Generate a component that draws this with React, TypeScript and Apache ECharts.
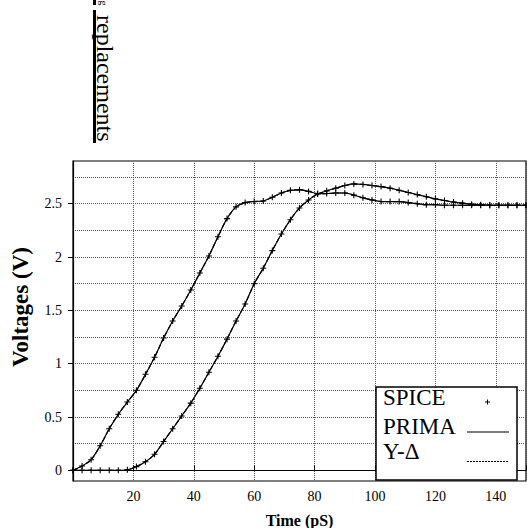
import React, { useEffect, useRef } from "react";
import * as echarts from "echarts";

// Time axis (pS)
const times = [
  0, 3, 6, 9, 12, 15, 18, 21, 24, 27,
  30, 33, 36, 39, 42, 45, 48, 51, 54, 57,
  60, 63, 66, 69, 72, 75, 78, 81, 84, 87,
  90, 93, 96, 99, 102, 105, 108, 111, 114, 117,
  120, 123, 126, 129, 132, 135, 138, 141, 144, 147,
  150,
];

// Near-end node voltage (V)
const nearVolts = [
  0, 0.04, 0.1, 0.23, 0.39, 0.525, 0.64, 0.75, 0.9, 1.06,
  1.24, 1.4, 1.54, 1.69, 1.85, 2.01, 2.19, 2.36, 2.47, 2.51,
  2.52, 2.525, 2.56, 2.6, 2.625, 2.63, 2.615, 2.595, 2.595, 2.6,
  2.6, 2.58, 2.555, 2.535, 2.52, 2.52, 2.52, 2.51, 2.5, 2.49,
  2.49, 2.485, 2.485, 2.485, 2.485, 2.485, 2.485, 2.485, 2.485, 2.485,
  2.485,
];

// Far-end node voltage (V)
const farVolts = [
  0, 0, 0, 0, 0, 0, 0.005, 0.035, 0.08, 0.15,
  0.27, 0.39, 0.51, 0.63, 0.77, 0.92, 1.07, 1.23, 1.4, 1.56,
  1.75, 1.895, 2.06, 2.215, 2.35, 2.46, 2.535, 2.59, 2.62, 2.645,
  2.67, 2.685, 2.68, 2.67, 2.66, 2.645, 2.625, 2.605, 2.585, 2.565,
  2.545, 2.53, 2.515, 2.505, 2.495, 2.49, 2.485, 2.485, 2.485, 2.485,
  2.485,
];

const xTickLabels = ["20", "40", "60", "80", "100", "120", "140"];
const yLabelValues = [0, 0.5, 1, 1.5, 2, 2.5];
const yGridValues = [0, 0.25, 0.5, 0.75, 1, 1.25, 1.5, 1.75, 2, 2.25, 2.5, 2.75];
const legendNames = ["SPICE", "PRIMA", "Y-\u0394"];

const SERIF = "'Liberation Serif', 'DejaVu Serif', 'Times New Roman', serif";
const PLUS =
  "path://M-0.18,-1 L0.18,-1 L0.18,-0.18 L1,-0.18 L1,0.18 L0.18,0.18 L0.18,1 L-0.18,1 L-0.18,0.18 L-1,0.18 L-1,-0.18 L-0.18,-0.18 Z";

function pairs(vals: number[]) {
  return times.map((t, i) => [t, vals[i]]);
}

export default function App() {
  const ref = useRef<HTMLDivElement>(null);

  useEffect(() => {
    if (!ref.current) return;
    const chart = echarts.init(ref.current, undefined, { renderer: "svg" });
    const gridStyle = { color: "#555", type: "dotted" as const, width: 1 };

    const lineSeries = (name: string, vals: number[], type: "solid" | "dashed") => ({
      name,
      type: "line",
      data: pairs(vals),
      showSymbol: false,
      smooth: 0.3,
      lineStyle: { color: "#000", width: 1.2, type },
      itemStyle: { color: "#000" },
      z: type === "solid" ? 3 : 2,
    });
    const spiceSeries = (vals: number[]) => ({
      name: legendNames[0],
      type: "scatter",
      data: pairs(vals),
      symbol: PLUS,
      symbolSize: 6,
      itemStyle: { color: "#000", opacity: 1 },
      z: 4,
    });

    chart.setOption({
      animation: false,
      backgroundColor: "#fff",
      textStyle: { fontFamily: SERIF },
      grid: {
        left: 73,
        top: 161,
        right: 1,
        bottom: 47,
        outerBoundsMode: "none",
        containLabel: false,
        show: true,
        borderColor: "#000",
        borderWidth: 1.2,
        backgroundColor: "transparent",
      },
      xAxis: {
        type: "value",
        min: 0,
        max: 150,
        interval: 20,
        name: "Time (pS)",
        nameLocation: "middle",
        nameGap: 31,
        nameTextStyle: { fontFamily: SERIF, fontWeight: "bold", fontSize: 16, color: "#000" },
        axisLine: { show: true, lineStyle: { color: "#000", width: 1.2 } },
        axisTick: { show: true, inside: true, length: 5, lineStyle: { color: "#000" } },
        axisLabel: {
          fontFamily: SERIF,
          fontSize: 14,
          color: "#000",
          margin: 8,
          formatter: (v: number) => {
            const s = String(v);
            return xTickLabels.includes(s) ? s : "";
          },
        },
        splitLine: { show: true, lineStyle: gridStyle },
      },
      yAxis: [
        {
          type: "value",
          min: -0.1,
          max: 2.9,
          name: "Voltages (V)",
          nameLocation: "middle",
          nameGap: 41,
          nameTextStyle: {
            fontFamily: SERIF,
            fontWeight: "bold",
            fontSize: 23,
            color: "#000",
            padding: [0, 0, 0, 28],
          },
          axisLine: { show: true, lineStyle: { color: "#000", width: 1.2 } },
          axisTick: {
            show: true,
            length: 0,
            customValues: yGridValues,
            lineStyle: { color: "transparent" },
          },
          axisLabel: {
            fontFamily: SERIF,
            fontSize: 14,
            color: "#000",
            margin: 11,
            customValues: yLabelValues,
          },
          splitLine: { show: true, lineStyle: gridStyle },
        },
        {
          type: "value",
          min: -0.1,
          max: 2.9,
          position: "left",
          axisLine: { show: false },
          axisTick: {
            show: true,
            inside: false,
            length: 5,
            customValues: yLabelValues,
            lineStyle: { color: "#000" },
          },
          axisLabel: { show: false },
          splitLine: { show: false },
        },
      ],
      series: [
        lineSeries(legendNames[2], nearVolts, "dashed"),
        lineSeries(legendNames[2], farVolts, "dashed"),
        lineSeries(legendNames[1], nearVolts, "solid"),
        lineSeries(legendNames[1], farVolts, "solid"),
        spiceSeries(nearVolts),
        spiceSeries(farVolts),
      ],
      graphic: [
        // PSfrag artifact at top-left
        {
          type: "rect",
          shape: { x: 93, y: 10, width: 3, height: 133 },
          style: { fill: "#000" },
        },
        {
          type: "rect",
          shape: { x: 93, y: 0, width: 3, height: 5 },
          style: { fill: "#000" },
        },
        {
          type: "text",
          x: 103,
          y: 0.5,
          rotation: -Math.PI / 2,
          style: {
            text: "g",
            fontFamily: SERIF,
            fontSize: 10,
            fill: "#000",
            textAlign: "left",
            textVerticalAlign: "middle",
          },
        },
        {
          type: "text",
          x: 104.5,
          y: 15,
          rotation: -Math.PI / 2,
          style: {
            text: "replacements",
            fontFamily: SERIF,
            fontSize: 24,
            fill: "#000",
            textAlign: "left",
            textVerticalAlign: "middle",
          },
        },
        // Legend box
        {
          type: "rect",
          shape: { x: 376, y: 387, width: 141, height: 93 },
          style: { fill: "#fff", stroke: "#000", lineWidth: 1.5 },
          z: 100,
        },
        {
          type: "text",
          x: 383,
          y: 409,
          style: { text: legendNames[0], fontFamily: SERIF, fontSize: 23, fill: "#000", textVerticalAlign: "bottom" },
          z: 101,
        },
        {
          type: "text",
          x: 383,
          y: 438,
          style: { text: legendNames[1], fontFamily: SERIF, fontSize: 23, fill: "#000", textVerticalAlign: "bottom" },
          z: 101,
        },
        {
          type: "text",
          x: 383,
          y: 463,
          style: { text: legendNames[2], fontFamily: SERIF, fontSize: 23, fill: "#000", textVerticalAlign: "bottom" },
          z: 101,
        },
        {
          type: "line",
          shape: { x1: 485, y1: 402, x2: 490, y2: 402 },
          style: { stroke: "#000", lineWidth: 1 },
          z: 101,
        },
        {
          type: "line",
          shape: { x1: 487.5, y1: 399.5, x2: 487.5, y2: 404.5 },
          style: { stroke: "#000", lineWidth: 1 },
          z: 101,
        },
        {
          type: "line",
          shape: { x1: 467, y1: 432, x2: 509, y2: 432 },
          style: { stroke: "#000", lineWidth: 1.2 },
          z: 101,
        },
        {
          type: "line",
          shape: { x1: 467, y1: 461.5, x2: 509, y2: 461.5 },
          style: { stroke: "#000", lineWidth: 1, lineDash: [2, 1] },
          z: 101,
        },
      ],
    });

    return () => chart.dispose();
  }, []);

  return (
    <div
      ref={ref}
      style={{ position: "absolute", left: 0, top: 0, width: 527, height: 528, background: "#fff" }}
    />
  );
}
